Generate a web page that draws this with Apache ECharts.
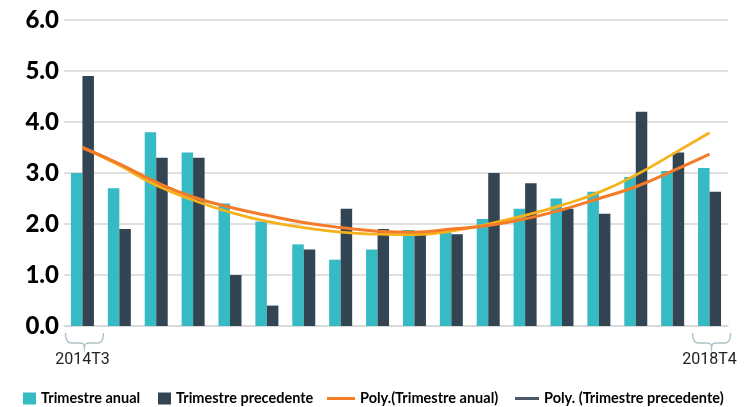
<!DOCTYPE html>
<html>
<head>
<meta charset="utf-8">
<script src="https://cdn.jsdelivr.net/npm/echarts@6/dist/echarts.min.js"></script>
<style>
html,body{margin:0;padding:0;background:#fff;}
#c{width:747px;height:407px;}
</style>
</head>
<body>
<div id="c"></div>
<script>
var categories = ['2014T3','2014T4','2015T1','2015T2','2015T3','2015T4','2016T1','2016T2','2016T3','2016T4','2017T1','2017T2','2017T3','2017T4','2018T1','2018T2','2018T3','2018T4'];
var trimestreAnual = [3.0, 2.7, 3.8, 3.4, 2.4, 2.05, 1.6, 1.3, 1.5, 1.88, 1.9, 2.1, 2.3, 2.5, 2.63, 2.92, 3.04, 3.1];
var trimestrePrecedente = [4.9, 1.9, 3.3, 3.3, 1.0, 0.4, 1.5, 2.3, 1.9, 1.8, 1.8, 3.0, 2.8, 2.3, 2.2, 4.2, 3.4, 2.63];
var polyAnual = [3.5, 3.18, 2.82, 2.53, 2.33, 2.17, 2.03, 1.93, 1.86, 1.84, 1.9, 1.97, 2.1, 2.28, 2.5, 2.73, 3.04, 3.37];
var polyPrecedente = [3.5, 3.15, 2.76, 2.47, 2.23, 2.05, 1.93, 1.84, 1.8, 1.79, 1.86, 2.0, 2.17, 2.37, 2.62, 2.96, 3.37, 3.79];
var yTicks = [0, 1, 2, 3, 4, 5, 6];
var shownLabels = ['2014T3', '2018T4'];

var chart = echarts.init(document.getElementById('c'), null, {renderer: 'canvas'});

var teal = '#36bac4', dark = '#334452', orange = '#f47b28', yellow = '#f6b21b';
var legendText = {fontFamily: 'Lato', fontWeight: 'bold', fontSize: 14.5, color: '#000', lineHeight: 12};

function legendAt(left, name, opts) {
  return Object.assign({
    left: left, top: 391, padding: 0, orient: 'horizontal',
    itemWidth: 13, itemHeight: 12, icon: 'rect',
    selectedMode: false, textStyle: legendText,
    data: [name]
  }, opts || {});
}

var option = {
  animation: false,
  backgroundColor: '#fff',
  grid: {left: 64, right: 19, top: 20, height: 306, containLabel: false},
  legend: [
    legendAt(23, 'Trimestre anual'),
    legendAt(158, 'Trimestre precedente'),
    legendAt(327, 'Poly.(Trimestre anual)', {itemWidth: 28, itemHeight: 3}),
    legendAt(515, 'Poly. (Trimestre precedente)', {itemWidth: 24, itemHeight: 3,
      data: [{name: 'Poly. (Trimestre precedente)', itemStyle: {color: '#4b5a68'}}]})
  ],
  xAxis: {
    type: 'category',
    data: categories,
    boundaryGap: true,
    axisLine: {show: true, lineStyle: {color: '#d6d6d6', width: 1.5}},
    axisTick: {show: false},
    axisLabel: {
      interval: 0,
      margin: 26,
      fontFamily: 'Roboto',
      fontSize: 16,
      color: '#222',
      formatter: function (v) { return shownLabels.indexOf(v) >= 0 ? v : ''; }
    },
    splitLine: {show: false}
  },
  yAxis: {
    type: 'value',
    min: yTicks[0], max: yTicks[yTicks.length - 1], interval: 1,
    axisLine: {show: false},
    axisTick: {show: false},
    axisLabel: {
      margin: 5,
      fontFamily: 'Lato',
      fontWeight: 900,
      fontSize: 24,
      color: '#000',
      formatter: function (v) { return v.toFixed(1); }
    },
    splitLine: {show: true, lineStyle: {color: '#d6d6d6', width: 1.5}}
  },
  series: [
    {name: 'Trimestre anual', type: 'bar', data: trimestreAnual, barWidth: 11.5, barGap: '0%', itemStyle: {color: teal}, z: 2},
    {name: 'Trimestre precedente', type: 'bar', data: trimestrePrecedente, barWidth: 11.5, barGap: '0%', itemStyle: {color: dark}, z: 2},
    {name: 'Poly.(Trimestre anual)', type: 'line', data: polyAnual, smooth: true, symbol: 'none', lineStyle: {color: orange, width: 3}, itemStyle: {color: orange}, z: 4},
    {name: 'Poly. (Trimestre precedente)', type: 'line', data: polyPrecedente, smooth: true, symbol: 'none', lineStyle: {color: yellow, width: 2.8}, itemStyle: {color: yellow}, z: 3}
  ]
};
chart.setOption(option);

// decorative braces above the two shown x labels
function quad(p0, p1, p2, n, out) {
  for (var i = 1; i <= n; i++) {
    var t = i / n, u = 1 - t;
    out.push([u * u * p0[0] + 2 * u * t * p1[0] + t * t * p2[0], u * u * p0[1] + 2 * u * t * p1[1] + t * t * p2[1]]);
  }
}
function braceFor(cat) {
  var p = chart.convertToPixel({xAxisIndex: 0}, cat);
  var x0 = p - 17, x1 = p + 21, xc = (x0 + x1) / 2;
  var y0 = 333, ym = 343, yb = 348;
  var pts = [[x0, y0]];
  quad([x0, y0], [x0, ym], [x0 + 6, ym], 6, pts);
  pts.push([xc - 4, ym]);
  quad([xc - 4, ym], [xc, ym], [xc, yb], 4, pts);
  quad([xc, yb], [xc, ym], [xc + 4, ym], 4, pts);
  pts.push([x1 - 6, ym]);
  quad([x1 - 6, ym], [x1, ym], [x1, y0], 6, pts);
  return {type: 'polyline', shape: {points: pts}, style: {stroke: '#aec2c6', lineWidth: 1.4, fill: null}, silent: true};
}
chart.setOption({graphic: shownLabels.map(braceFor)});
</script>
</body>
</html>
